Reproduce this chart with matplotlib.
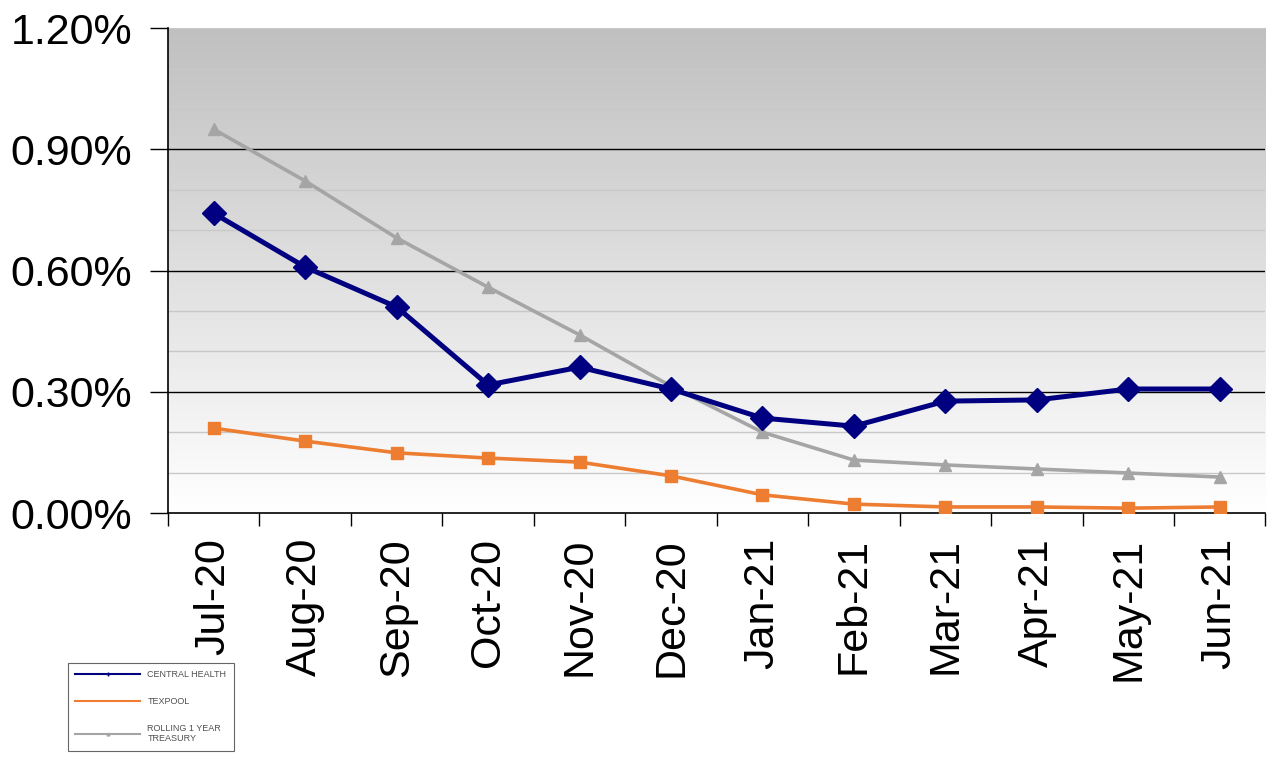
import numpy as np
import matplotlib
matplotlib.use('Agg')
import matplotlib.pyplot as plt
from matplotlib.lines import Line2D
from matplotlib.ticker import FuncFormatter, MultipleLocator

plt.rcParams['font.family'] = ['Liberation Sans', 'DejaVu Sans']

months = ['Jul-20', 'Aug-20', 'Sep-20', 'Oct-20', 'Nov-20', 'Dec-20',
          'Jan-21', 'Feb-21', 'Mar-21', 'Apr-21', 'May-21', 'Jun-21']
central_health = [0.742, 0.609, 0.510, 0.317, 0.361, 0.307,
                  0.235, 0.215, 0.277, 0.280, 0.307, 0.307]
texpool = [0.210, 0.178, 0.149, 0.136, 0.126, 0.092,
           0.045, 0.022, 0.015, 0.015, 0.012, 0.015]
treasury = [0.950, 0.822, 0.681, 0.559, 0.441, 0.314,
            0.200, 0.131, 0.119, 0.109, 0.099, 0.089]

navy = '#000080'
orange = '#ED7D31'
grey = '#A5A5A5'

fig = plt.figure(figsize=(12.68, 7.65), dpi=100)
ax = fig.add_axes([0.1325, 0.3294, 0.8655, 0.6336])

x = np.arange(len(months))
ax.set_xlim(-0.5, len(months) - 0.5)
ax.set_ylim(0, 1.2)

# grey-to-white vertical gradient behind the plot
grad = np.linspace(0, 1, 256).reshape(-1, 1)
ax.imshow(grad, extent=(-0.5, len(months) - 0.5, 0, 1.2), aspect='auto',
          cmap=matplotlib.colors.LinearSegmentedColormap.from_list('bg', ['#ffffff', '#c0c0c0']),
          origin='lower', zorder=0)

for v in np.arange(0.1, 1.21, 0.1):
    if abs(v / 0.3 - round(v / 0.3)) < 1e-6 and v < 1.15:
        ax.axhline(v, color='black', lw=1.0, zorder=1)
    else:
        ax.axhline(v, color='#c8c8c8', lw=1.0, zorder=1)

ax.plot(x, treasury, color=grey, lw=2.6, marker='^', ms=9, zorder=3)
ax.plot(x, texpool, color=orange, lw=2.6, marker='s', ms=8.5, zorder=3)
ax.plot(x, central_health, color=navy, lw=3.6, marker='D', ms=12.5, zorder=4)

ax.yaxis.set_major_locator(MultipleLocator(0.3))
ax.yaxis.set_major_formatter(FuncFormatter(lambda v, p: '%.2f%%' % v))
ax.set_xticks(x)
ax.set_xticklabels(months, rotation=90)
ax.set_xticks(np.arange(-0.5, len(months) + 0.5, 1), minor=True)
ax.tick_params(axis='x', which='major', length=0, pad=18, labelsize=31)
ax.tick_params(axis='x', which='minor', length=9, width=1, color='black')
ax.tick_params(axis='y', length=13, width=1, labelsize=31, pad=13)

for s in ['top', 'right']:
    ax.spines[s].set_visible(False)
for s in ['left', 'bottom']:
    ax.spines[s].set_color('black')
    ax.spines[s].set_linewidth(1.2)

handles = [
    Line2D([], [], color=navy, lw=1.5, marker='+', ms=3),
    Line2D([], [], color=orange, lw=1.5),
    Line2D([], [], color=grey, lw=1.5, marker='^', ms=2),
]
labels = ['CENTRAL HEALTH', 'TEXPOOL', 'ROLLING 1 YEAR\nTREASURY']
leg = fig.legend(handles, labels, loc='lower left', bbox_to_anchor=(0.050, 0.013),
                 frameon=True, fancybox=False, edgecolor='#404040', fontsize=6.5,
                 handlelength=7.2, labelspacing=2.0, borderpad=0.8, handletextpad=0.8,
                 labelcolor='#505050')
leg.get_frame().set_linewidth(0.8)

fig.savefig('out.png', dpi=100)
